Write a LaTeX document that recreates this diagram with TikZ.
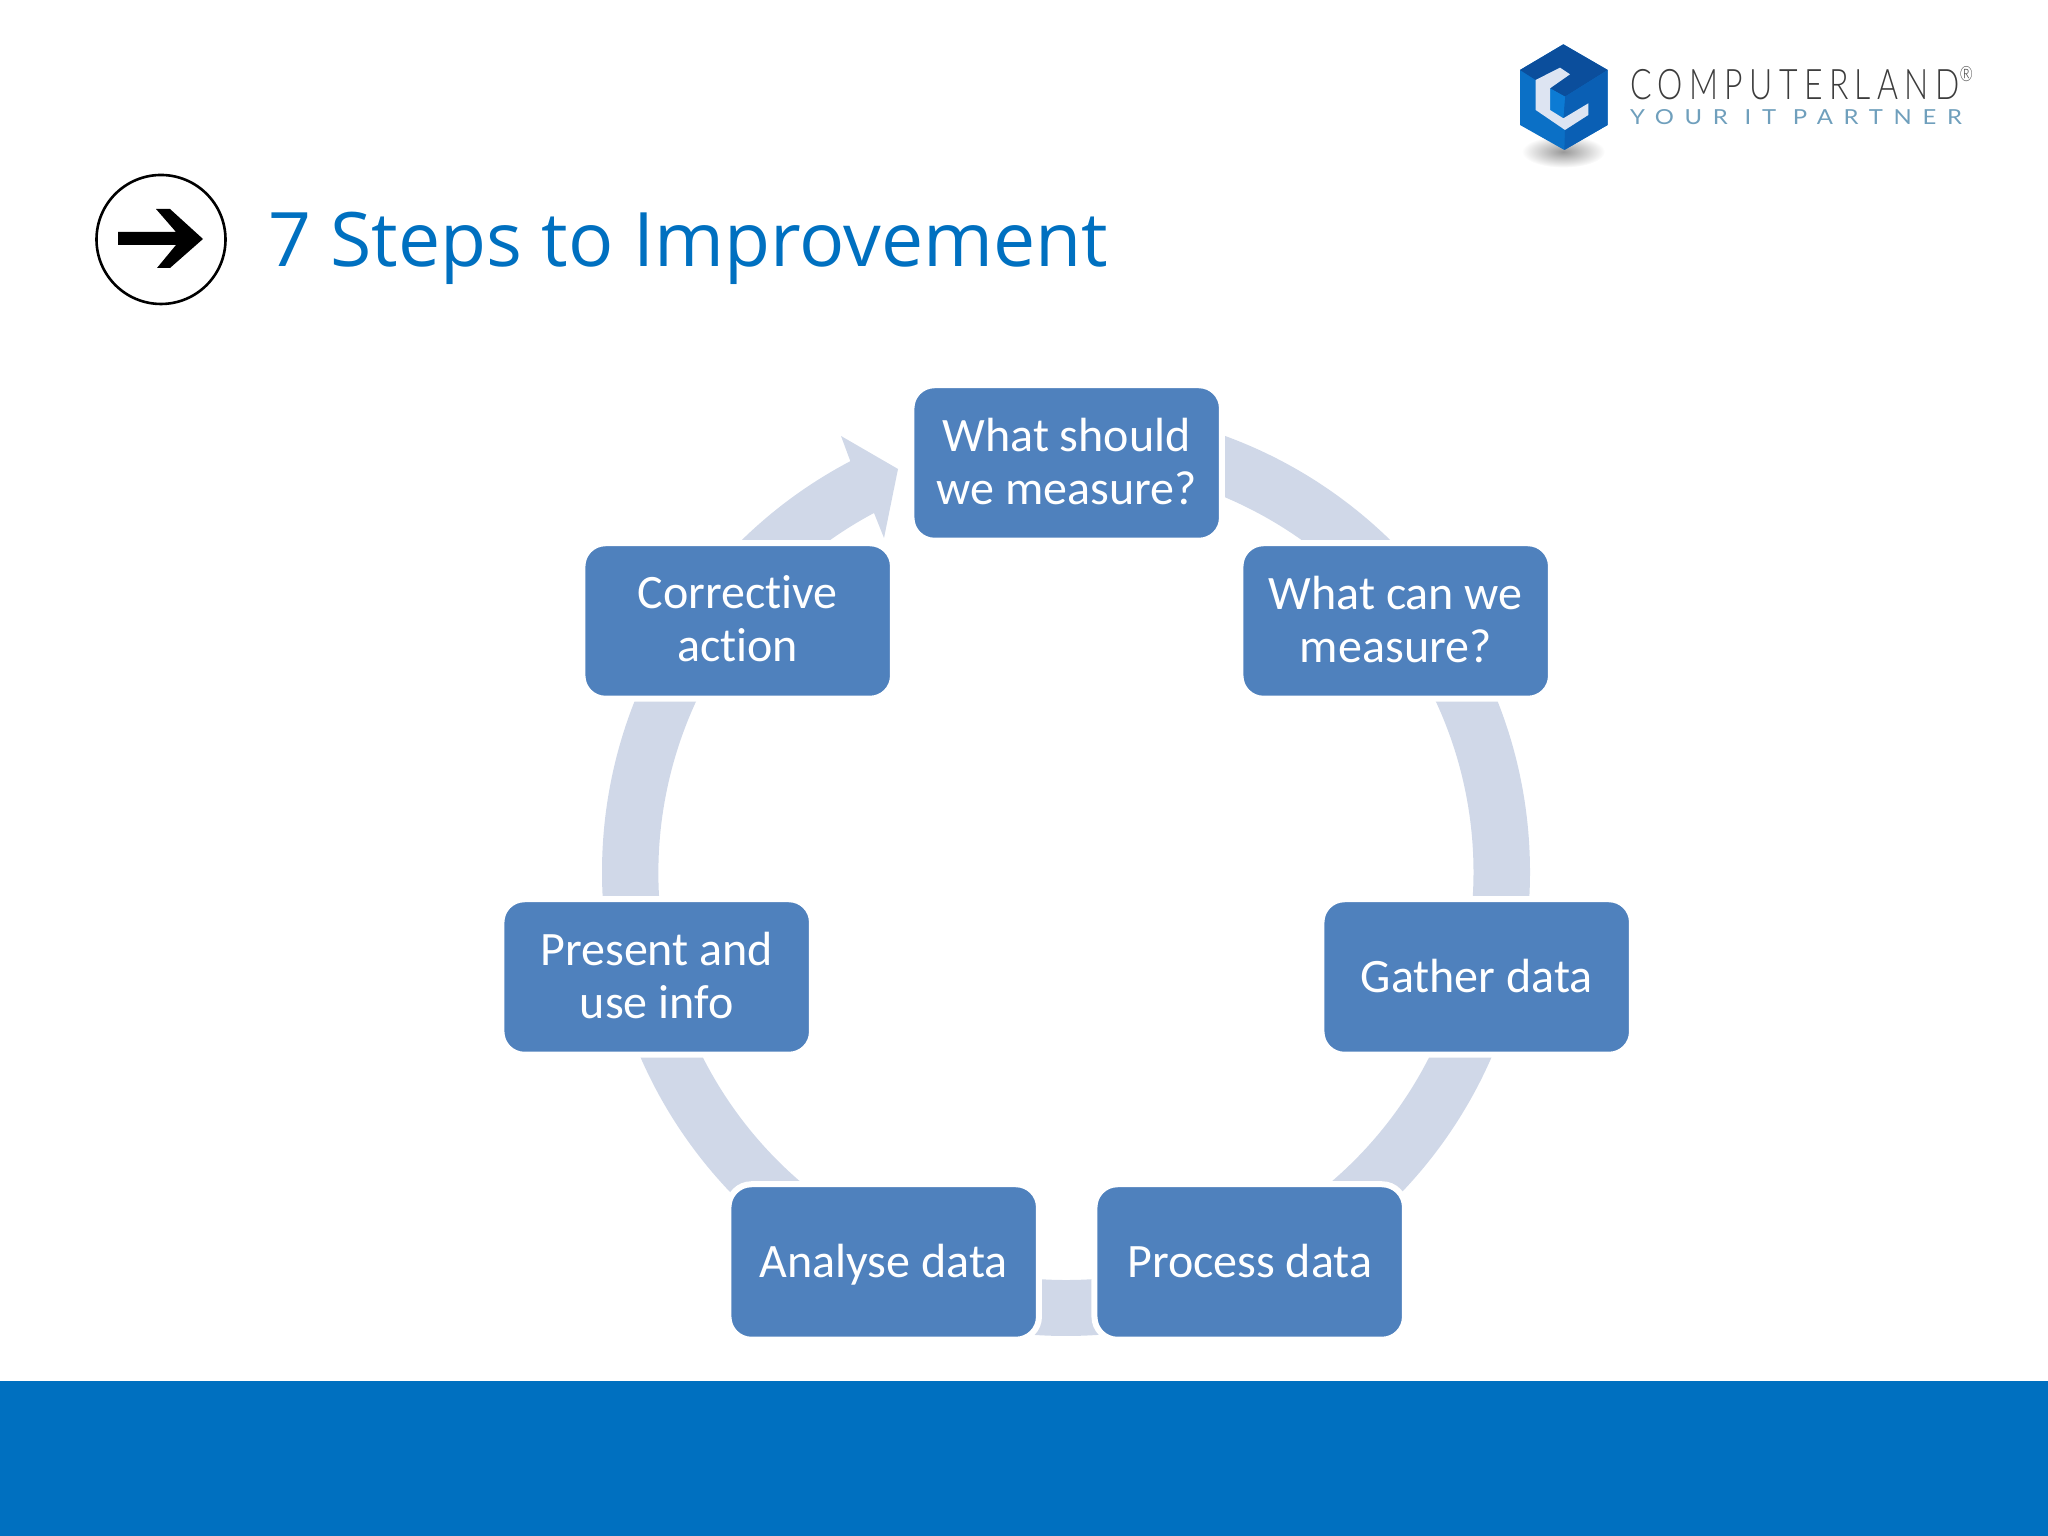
\documentclass[tikz,border=0pt]{standalone}
\usepackage{fontspec}
\setmainfont[Ligatures=NoCommon]{Carlito}
\newfontfamily\titlefont{Open Sans}
\newfontfamily\logofont{Lato Light}
\newfontfamily\tagfont{Lato}
\usepackage{graphicx}
\definecolor{boxblue}{HTML}{4F81BD}
\definecolor{ringblue}{HTML}{D0D8E8}
\definecolor{barblue}{HTML}{0070C0}
\definecolor{logogray}{HTML}{3C3C3C}
\definecolor{logosub}{HTML}{6F9FBC}
\definecolor{lgFront}{HTML}{0B70C6}
\definecolor{lgTop}{HTML}{0B4E9C}
\definecolor{lgRight}{HTML}{0A5FB4}
\definecolor{lgInner}{HTML}{0C7BD4}
\definecolor{lgLight}{HTML}{DDE4F2}
\newcommand{\lowline}[1]{\rule{0pt}{39pt}\vphantom{g}#1}
\newcommand{\lastline}[1]{#1\rule[-4pt]{0pt}{4pt}}
\tikzset{
  stepbox/.style={draw=white,line width=6pt,fill=boxblue,rounded corners=23pt,
    minimum width=310.5pt,minimum height=155.5pt,inner sep=0pt,outer sep=0pt,align=center,
    xshift=0.7pt,text=white,font=\fontsize{48}{53}\selectfont},
  flat/.style={inner sep=0pt,outer sep=0pt}
}
\begin{document}
\begin{tikzpicture}[x=1pt,y=1pt]
\useasboundingbox (0,0) rectangle (2048,1536);
% footer bar
\fill[barblue] (0,0) rectangle (2048,155);
% title
\node[flat,anchor=base west,text=barblue] (title) at (268,1269)
  {\resizebox{840pt}{!}{\fontsize{80}{96}\selectfont\titlefont 7 Steps to Improvement}};
% round arrow icon
\node[flat,draw=black,line width=2.6pt,circle,minimum size=129pt] (icon) at (161,1296.5) {};
\fill[black] (118,1304)--(176,1304)--(156,1327)--(170,1327)--(203,1297)--(170,1268)--(157,1268)--(176,1291)--(118,1291)--cycle;
% logo
\begin{scope}[xshift=1505pt,yshift=1501pt,xscale=0.3333,yscale=-0.3333]
  \shade[inner color=black!40,outer color=white] (175,350) ellipse [x radius=125,y radius=48];
  \fill[lgFront] (175,28)--(308,105)--(308,270)--(178,345)--(45,270)--(45,105)--cycle;
  \fill[lgTop] (45,105)--(175,28)--(308,105)--(180,185)--(135,160)--(195,118)--(165,98)--(92,135)--cycle;
  \fill[lgRight] (308,105)--(308,270)--(178,345)--(180,285)--(250,240)--(250,205)--(175,250)--(180,185)--cycle;
  \fill[lgInner] (135,160)--(180,185)--(175,250)--(135,225)--cycle;
  \fill[lgLight] (165,98)--(195,118)--(135,160)--(135,225)--(175,250)--(250,205)--(250,240)--(180,285)--(92,225)--(92,135)--cycle;
\end{scope}
\node[flat,anchor=base west,text=logogray] (logoname) at (1630,1436)
  {\resizebox{343pt}{34pt}{\logofont\addfontfeature{LetterSpace=20}COMPUTERLAND\raisebox{0.45em}{\tiny ®}}};
\node[flat,anchor=base west,text=logosub] (logotag) at (1630,1411)
  {\resizebox{332pt}{15pt}{\tagfont\addfontfeature{LetterSpace=45}YOUR\hspace{0.7em}IT\hspace{0.7em}PARTNER}};
% ring
\coordinate (c) at (1066,664);
\fill[ringblue] ([shift={(90:464)}]c) arc[start angle=90,end angle=-242.3,radius=464]
  -- (841,1100) -- (898,1067) -- (884,998) -- (874,1023)
  arc[start angle=-241.9,end angle=90,radius=407.5] -- cycle;
% steps
\node[stepbox] (s1) at (1066,1073) {What should\\\lastline{we measure?}};
\node[stepbox] (s2) at (1395,915) {What can we\\\lastline{measure?}};
\node[stepbox] (s3) at (1476,559) {\lowline{Gather data}};
\node[stepbox] (s4) at (1249,274) {\lowline{Process data}};
\node[stepbox] (s5) at (883,274) {\lowline{Analyse data}};
\node[stepbox] (s6) at (656,559) {Present and\\\lastline{use info}};
\node[stepbox] (s7) at (737,915) {Corrective\\\lastline{action}};
\end{tikzpicture}
\end{document}
